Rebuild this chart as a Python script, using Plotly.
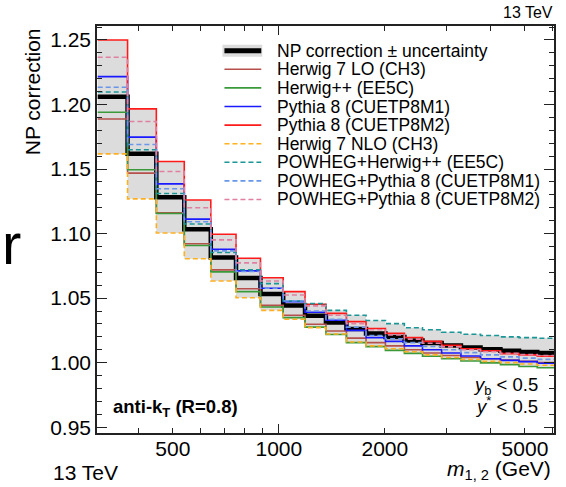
import math
import plotly.graph_objects as go

# ---------------- data ----------------
edges = [306, 372, 449, 539, 641, 756, 887, 1029, 1187, 1361, 1556, 1769,
         2008, 2273, 2559, 2900, 3290, 3740, 4260, 4810, 5420, 6046]

np_center = [1.2059, 1.1618, 1.1281, 1.1033, 1.0814, 1.0656, 1.0532, 1.0443, 1.0364, 1.0312, 1.0261,
             1.0226, 1.0199, 1.0171, 1.0153, 1.0133, 1.0117, 1.0104, 1.0093, 1.0082, 1.0075]
np_hi = [1.2500, 1.1966, 1.1558, 1.1260, 1.0995, 1.0809, 1.0658, 1.0550, 1.0457, 1.0405, 1.0367,
         1.0327, 1.0302, 1.0270, 1.0255, 1.0236, 1.0220, 1.0210, 1.0200, 1.0194, 1.0189]
np_lo = [1.1617, 1.1269, 1.1004, 1.0805, 1.0633, 1.0503, 1.0405, 1.0336, 1.0271, 1.0218, 1.0155,
         1.0124, 1.0095, 1.0072, 1.0050, 1.0030, 1.0013, 0.9998, 0.9985, 0.9970, 0.9960]

herwig7_lo = [1.1888, 1.1468, 1.1160, 1.0921, 1.0719, 1.0573, 1.0444, 1.0367, 1.0298, 1.0245, 1.0190,
              1.0155, 1.0130, 1.0100, 1.0075, 1.0055, 1.0040, 1.0030, 1.0020, 1.0010, 1.0000]
herwigpp = [1.1940, 1.1494, 1.1155, 1.0908, 1.0703, 1.0550, 1.0431, 1.0349, 1.0275, 1.0218, 1.0155,
            1.0124, 1.0095, 1.0072, 1.0050, 1.0030, 1.0013, 0.9998, 0.9985, 0.9970, 0.9960]
pythia_m1 = [1.2216, 1.1747, 1.1385, 1.1112, 1.0879, 1.0711, 1.0576, 1.0473, 1.0390, 1.0328, 1.0250,
             1.0194, 1.0165, 1.0130, 1.0100, 1.0075, 1.0052, 1.0030, 1.0018, 1.0008, 0.9995]
pythia_m2 = [1.2500, 1.1966, 1.1558, 1.1260, 1.0995, 1.0809, 1.0658, 1.0550, 1.0452, 1.0382, 1.0318,
             1.0265, 1.0228, 1.0195, 1.0165, 1.0135, 1.0108, 1.0092, 1.0070, 1.0060, 1.0050]
herwig7_nlo = [1.1617, 1.1269, 1.1004, 1.0805, 1.0633, 1.0503, 1.0405, 1.0336, 1.0271, 1.0222, 1.0160,
               1.0130, 1.0108, 1.0085, 1.0060, 1.0040, 1.0025, 1.0010, 1.0000, 0.9990, 0.9980]
powheg_herwigpp = [1.2097, 1.1649, 1.1310, 1.1074, 1.0853, 1.0720, 1.0612, 1.0478, 1.0457, 1.0405, 1.0367,
                   1.0327, 1.0302, 1.0270, 1.0255, 1.0236, 1.0220, 1.0210, 1.0200, 1.0194, 1.0189]
powheg_pythia_m1 = [1.2134, 1.1690, 1.1347, 1.1092, 1.0866, 1.0706, 1.0576, 1.0478, 1.0400, 1.0335, 1.0275,
                    1.0210, 1.0185, 1.0155, 1.0125, 1.0100, 1.0078, 1.0060, 1.0045, 1.0035, 1.0025]
powheg_pythia_m2 = [1.2366, 1.1868, 1.1481, 1.1200, 1.0951, 1.0773, 1.0633, 1.0524, 1.0440, 1.0367, 1.0302,
                    1.0255, 1.0215, 1.0182, 1.0150, 1.0122, 1.0100, 1.0085, 1.0072, 1.0062, 1.0055]

models = [
    ("Herwig 7 LO (CH3)", herwig7_lo, "#b5504d", "solid"),
    ("Herwig++ (EE5C)", herwigpp, "#3a9a3a", "solid"),
    ("Pythia 8 (CUETP8M1)", pythia_m1, "#1a1aff", "solid"),
    ("Pythia 8 (CUETP8M2)", pythia_m2, "#ff1a1a", "solid"),
    ("Herwig 7 NLO (CH3)", herwig7_nlo, "#ffb020", "5px,3px"),
    ("POWHEG+Herwig++ (EE5C)", powheg_herwigpp, "#1a9696", "5px,3px"),
    ("POWHEG+Pythia 8 (CUETP8M1)", powheg_pythia_m1, "#6a96ea", "5px,3px"),
    ("POWHEG+Pythia 8 (CUETP8M2)", powheg_pythia_m2, "#e07fa0", "5px,3px"),
]

x_tick_vals = [500, 1000, 2000, 5000]
x_tick_text = ["500", "1000", "2000", "5000"]
x_minor_vals = [400, 600, 700, 800, 900, 3000, 4000, 6000]
y_tick_vals = [0.95, 1.00, 1.05, 1.10, 1.15, 1.20, 1.25]
y_tick_text = ["0.95", "1.00", "1.05", "1.10", "1.15", "1.20", "1.25"]

# ---------------- layout geometry ----------------
W, H = 566, 487
L, R, T, B = 97, 556, 26, 433
FONT = "Liberation Sans, Arial, Helvetica, sans-serif"


def px(x):
    return (x - L) / (R - L)


def py(y):
    return (B - y) / (B - T)


def st(vals):
    return list(vals) + [vals[-1]]


fig = go.Figure()

# uncertainty band
fig.add_trace(go.Scatter(x=edges, y=st(np_lo), mode="lines", line=dict(width=0, shape="hv"),
                         showlegend=False, hoverinfo="skip"))
fig.add_trace(go.Scatter(x=edges, y=st(np_hi), mode="lines", line=dict(width=0, shape="hv"),
                         fill="tonexty", fillcolor="#dcdcdc", showlegend=False, hoverinfo="skip"))
# NP correction
fig.add_trace(go.Scatter(x=edges, y=st(np_center), mode="lines",
                         line=dict(color="black", width=4.5, shape="hv"), showlegend=False))
# models
for name, vals, col, dash in models:
    fig.add_trace(go.Scatter(x=edges, y=st(vals), mode="lines", name=name,
                             line=dict(color=col, width=1.6, dash=dash, shape="hv"), showlegend=False))

# dummy trace for the overlay axis (long 1000 tick)
fig.add_trace(go.Scatter(x=[1000], y=[1.0], xaxis="x2", mode="markers", marker=dict(opacity=0),
                         showlegend=False, hoverinfo="skip"))

xr = [math.log10(304.6), math.log10(6046)]
yr = [0.9455, 1.2608]

y_minor = [round(0.95 + 0.01 * i, 2) for i in range(0, 32)]
y_minor = [v for v in y_minor if all(abs(v - t) > 1e-6 for t in y_tick_vals)]

fig.update_layout(
    width=W, height=H,
    margin=dict(l=L, r=W - R, t=T, b=H - B),
    paper_bgcolor="white", plot_bgcolor="white",
    font=dict(family=FONT, color="black"),
    showlegend=False,
    xaxis=dict(type="log", range=xr, tickmode="array", tickvals=x_tick_vals, ticktext=x_tick_text,
               ticks="inside", ticklen=5, tickwidth=1, tickcolor="#222", ticklabelstandoff=-4,
               minor=dict(tickmode="array", tickvals=x_minor_vals, ticks="inside", ticklen=5,
                          tickwidth=1, tickcolor="#222", showgrid=False),
               showline=True, linecolor="#222", linewidth=1.5, mirror="ticks",
               showgrid=False, zeroline=False, tickfont=dict(size=21, family=FONT)),
    xaxis2=dict(type="log", range=xr, overlaying="x", anchor="y", side="bottom",
                tickmode="array", tickvals=[1000], ticks="inside", ticklen=9, tickwidth=1,
                tickcolor="#222", showticklabels=False, showgrid=False, zeroline=False,
                showline=False, mirror="ticks"),
    yaxis=dict(range=yr, tickmode="array", tickvals=y_tick_vals, ticktext=y_tick_text,
               ticks="inside", ticklen=10, tickwidth=1, tickcolor="#222",
               minor=dict(tickmode="array", tickvals=y_minor, ticks="inside", ticklen=5,
                          tickwidth=1, tickcolor="#222", showgrid=False),
               showline=True, linecolor="#222", linewidth=1.5, mirror="ticks",
               showgrid=False, zeroline=False, tickfont=dict(size=21, family=FONT)),
)

annotations = []
shapes = []


def ann(text, x, y, xanchor="left", yanchor="middle", size=20, angle=0):
    annotations.append(dict(text=text, x=px(x), y=py(y), xref="paper", yref="paper",
                            xanchor=xanchor, yanchor=yanchor, showarrow=False, textangle=angle,
                            font=dict(size=size, family=FONT, color="black")))


ann("13 TeV", 557, 12, xanchor="right", size=16)
ann("13 TeV", 51, 473, xanchor="left", size=21)
ann("<i>m</i><sub>1, 2</sub> (GeV)", 555, 470, xanchor="right", size=21)
ann("NP correction", 32, 92, xanchor="center", size=21, angle=-90)
ann("r", 0, 243, xanchor="left", size=58)
ann("<b>anti-k<sub>T</sub> (R=0.8)</b>", 111, 408, xanchor="left", size=18.5)
ann("<i>y</i><sub>b</sub> &lt; 0.5", 542, 386, xanchor="right", size=18.5)
ann("<i>y</i><sup>*</sup> &lt; 0.5", 542, 405, xanchor="right", size=18.5)

# manual legend
row0, dy = 50.7, 18.6
legend_entries = [("NP correction \u00b1 uncertainty", None, None)] + [(m[0], m[2], m[3]) for m in models]
for i, (name, col, dash) in enumerate(legend_entries):
    yc = row0 + i * dy
    ann(name, 276, yc, xanchor="left", size=17.5)
    if col is None:
        shapes.append(dict(type="rect", xref="paper", yref="paper", x0=px(223), x1=px(263),
                           y0=py(yc + 6), y1=py(yc - 6), fillcolor="#dcdcdc", line=dict(width=0)))
        shapes.append(dict(type="line", xref="paper", yref="paper", x0=px(225), x1=px(262),
                           y0=py(yc), y1=py(yc), line=dict(color="black", width=5)))
    else:
        shapes.append(dict(type="line", xref="paper", yref="paper", x0=px(225), x1=px(262),
                           y0=py(yc), y1=py(yc), line=dict(color=col, width=1.6, dash=dash)))

fig.update_layout(annotations=annotations, shapes=shapes)

fig.write_html("out.html")
